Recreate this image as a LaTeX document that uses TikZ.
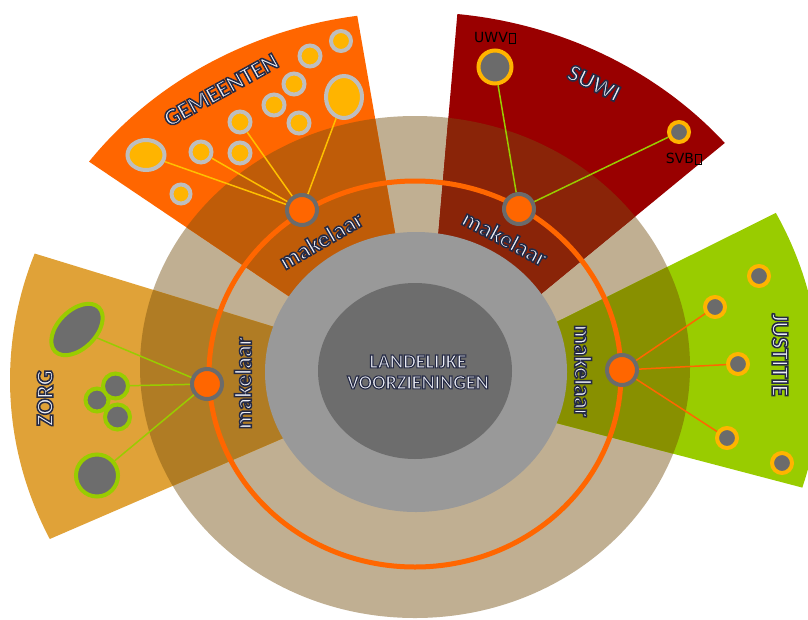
\documentclass[tikz,border=0pt]{standalone}
\usepackage{fontspec}
\setmainfont{Carlito}
\newfontfamily\dejavu{DejaVu Sans}
\usetikzlibrary{calc,shapes.geometric}
\definecolor{tanc}{HTML}{C0AF92}
\definecolor{gemc}{HTML}{FF6600}
\definecolor{gemdark}{HTML}{BF5C08}
\definecolor{suwic}{HTML}{990000}
\definecolor{suwidark}{HTML}{8A2408}
\definecolor{jusc}{HTML}{99CC00}
\definecolor{jusdark}{HTML}{889000}
\definecolor{zorgc}{HTML}{E0A238}
\definecolor{zorgdark}{HTML}{B07C24}
\definecolor{lgray}{HTML}{999999}
\definecolor{dgray}{HTML}{6D6D6D}
\definecolor{bordgray}{HTML}{6B6B6B}
\definecolor{palegray}{HTML}{BEBEBE}
\definecolor{amber}{HTML}{FFB400}
\definecolor{linamber}{HTML}{FFC000}
\definecolor{txtc}{HTML}{ECEEF6}
\newcommand{\glowtxt}[2][1.5]{{\color{txtc}\special{pdf:literal direct 0.145 0.165 0.271 RG 2 Tr #1 w}#2\special{pdf:literal direct 0 Tr}}}
\newcommand{\tofu}{\kern0.8pt{\fboxsep=0pt\fboxrule=0.6pt\fbox{\rule{0pt}{9pt}\hspace{6pt}}}}
\newcommand{\wedgeG}[1]{\fill[#1] (370,-351) -- ($(O)+(143.6:405 and 368)$) arc[start angle=143.6,end angle=98.2,x radius=405,y radius=368] -- (412,-330) -- cycle;}
\newcommand{\wedgeS}[1]{\fill[#1] (430,-330) -- ($(O)+(84.0:405 and 368)$) arc[start angle=84.0,end angle=40.1,x radius=405,y radius=368] -- (485,-340) -- cycle;}
\newcommand{\wedgeJ}[1]{\fill[#1] (480,-360) -- ($(O)+(27.0:405 and 368)$) arc[start angle=27.0,end angle=-17.0,x radius=405,y radius=368] -- (480,-403) -- cycle;}
\newcommand{\wedgeZ}[1]{\fill[#1] (330,-344) -- ($(O)+(159.9:405 and 368)$) arc[start angle=159.9,end angle=205.6,x radius=405,y radius=368] -- (330,-418) -- cycle;}
\begin{document}
\begin{tikzpicture}[x=1pt,y=1pt,
  mak/.style={circle,fill=gemc,draw=bordgray,line width=4pt,minimum size=30pt,inner sep=0pt},
  gbub/.style={circle,fill=amber,draw=palegray,line width=4pt,inner sep=0pt},
  ybub/.style={circle,fill=bordgray,draw=amber,line width=4pt,inner sep=0pt},
  zbub/.style={circle,fill=dgray,draw=jusc,line width=4pt,inner sep=0pt},
  glin/.style={draw=linamber,line width=1.5pt},
  slin/.style={draw=jusc,line width=1.5pt},
  jlin/.style={draw=gemc,line width=1.5pt},
  zlin/.style={draw=jusc,line width=1.5pt},
  big/.style={font=\bfseries\fontsize{24}{30}\selectfont,inner sep=1pt},
  small/.style={font=\dejavu\fontsize{14}{16}\selectfont,text=black,inner sep=0pt}]
\useasboundingbox (0,0) rectangle (808,-619);
\clip (0,0) rectangle (808,-619);
\coordinate (O) at (415,-380);
% outer tan disc
\fill[tanc] (415,-367) ellipse[x radius=275,y radius=251];
% wedges
\wedgeG{gemc}
\wedgeS{suwic}
\wedgeJ{jusc}
\wedgeZ{zorgc}
\begin{scope}
  \clip (415,-367) ellipse[x radius=275,y radius=251];
  \wedgeG{gemdark}
  \wedgeS{suwidark}
  \wedgeJ{jusdark}
  \wedgeZ{zorgdark}
\end{scope}
% ring and core
\draw[gemc,line width=5pt] (415,-374) ellipse[x radius=206,y radius=193];
\fill[lgray] (416,-372) ellipse[x radius=151,y radius=140];
\fill[dgray] (415,-371) ellipse[x radius=97,y radius=88];
% Gemeenten bubbles
\node[gbub,ellipse,minimum width=37pt,minimum height=30pt] (g1) at (146,-155) {};
\node[gbub,minimum size=19pt] (g2) at (181,-194) {};
\node[gbub,minimum size=21pt] (g3) at (201,-152) {};
\node[gbub,minimum size=21pt] (g4) at (240,-153) {};
\node[gbub,minimum size=21pt] (g5) at (240,-122) {};
\node[gbub,minimum size=21pt] (g6) at (274,-105) {};
\node[gbub,minimum size=21pt] (g7) at (294,-84) {};
\node[gbub,minimum size=21pt] (g8) at (310,-56) {};
\node[gbub,minimum size=21pt] (g9) at (299,-123) {};
\node[gbub,minimum size=20pt] (g10) at (341,-41) {};
\node[gbub,ellipse,minimum width=36pt,minimum height=42pt] (g11) at (344,-97) {};
% SUWI bubbles
\node[ybub,minimum size=33pt] (uwv) at (495,-67) {};
\node[ybub,minimum size=20pt] (svb) at (679,-132) {};
\node[small] (luwv) at (495,-38) {UWV\tofu};
\node[small] (lsvb) at (684,-159) {SVB\tofu};
% Justitie bubbles
\node[ybub,minimum size=20pt] (j1) at (759,-276) {};
\node[ybub,minimum size=20pt] (j2) at (715,-307) {};
\node[ybub,minimum size=20pt] (j3) at (738,-364) {};
\node[ybub,minimum size=20pt] (j4) at (727,-438) {};
\node[ybub,minimum size=20pt] (j5) at (782,-463) {};
% Zorg bubbles
\node[zbub,ellipse,minimum width=62pt,minimum height=38pt,rotate=45] (z1) at (77,-329.5) {};
\node[zbub,minimum size=23pt] (z3) at (97,-400) {};
\node[zbub,minimum size=25pt] (z2) at (115.5,-386) {};
\node[zbub,minimum size=25pt] (z4) at (117.5,-417) {};
\node[zbub,minimum size=42pt] (z5) at (97,-475.5) {};
% makelaar nodes
\node[mak] (mg) at (302,-210) {};
\node[mak] (ms) at (519,-209) {};
\node[mak] (mz) at (207,-384) {};
\node[mak] (mj) at (622,-370) {};
% connectors
\draw[glin] (mg) -- (g1);
\draw[glin] (mg) -- (g3);
\draw[glin] (mg) -- (g5);
\draw[glin] (mg) -- (g11);
\draw[slin] (ms) -- (uwv);
\draw[slin] (ms) -- (svb);
\draw[jlin] (mj) -- (j2);
\draw[jlin] (mj) -- (j3);
\draw[jlin] (mj) -- (j4);
\draw[zlin] (mz) -- (z1);
\draw[zlin] (mz) -- (z2);
\draw[zlin] (mz) -- (z5);
% labels
\node[big,rotate=29] (tg) at (221,-90) {\glowtxt{GEMEENTEN}};
\node[big,rotate=-26] (ts) at (594,-83) {\glowtxt{SUWI}};
\node[big,rotate=-90] (tj) at (780,-355) {\glowtxt{JUSTITIE}};
\node[big,rotate=90] (tz) at (45,-398) {\glowtxt{ZORG}};
\node[big,rotate=30] (kg) at (321,-240) {\glowtxt{makelaar}};
\node[big,rotate=-28] (ks) at (505,-238) {\glowtxt{makelaar}};
\node[big,rotate=90] (kz) at (243,-383) {\glowtxt{makelaar}};
\node[big,rotate=-90] (kj) at (583,-371) {\glowtxt{makelaar}};
\node[font=\bfseries\fontsize{20}{21}\selectfont,align=center,inner sep=0pt] (tc) at (418,-372) {\glowtxt[1.1]{LANDELIJKE}\\\glowtxt[1.1]{VOORZIENINGEN}};
\end{tikzpicture}
\end{document}
